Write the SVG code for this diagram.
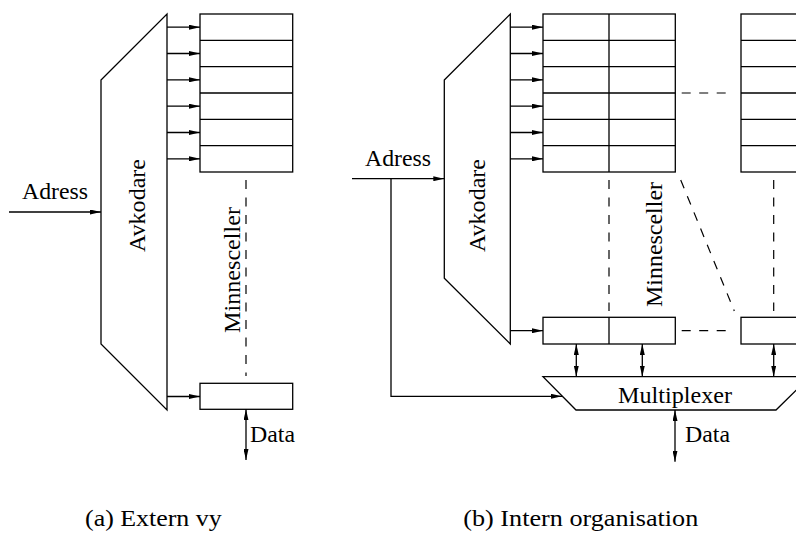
<svg xmlns="http://www.w3.org/2000/svg" width="796" height="534" viewBox="0 0 796 534">
<style>
.s{fill:none;stroke:#000;stroke-width:1.3}
.b{fill:#fff;stroke:#000;stroke-width:1.3}
.d{fill:none;stroke:#000;stroke-width:1.2;stroke-dasharray:9 8.5}
text{font-size:23px;fill:#000}
</style>
<defs>
<marker id="ah" viewBox="0 0 11 5" refX="11" refY="2.5" markerWidth="11" markerHeight="5" markerUnits="userSpaceOnUse" orient="auto-start-reverse">
<path d="M0,0 L11,2.5 L0,5 z" fill="#000"/>
</marker>
</defs>
<rect width="796" height="534" fill="#fff"/>
<g font-family="Liberation Serif, Tinos, DejaVu Serif, Noto Serif, FreeSerif, Times New Roman, serif">

<g id="decoder-a">
<path class="s" d="M101,80 L167,14 L167,410 L101,344 Z"/>
<text transform="translate(145,205.5) rotate(-90)" text-anchor="middle" textLength="93" lengthAdjust="spacingAndGlyphs">Avkodare</text>
</g>
<g id="cells-a">
<rect class="b" x="200" y="14" width="92.7" height="158"/>
<path class="s" d="M200,40.3H292.7M200,66.7H292.7M200,93H292.7M200,119.3H292.7M200,145.7H292.7"/>
<text transform="translate(240,270) rotate(-90)" text-anchor="middle" textLength="126" lengthAdjust="spacingAndGlyphs">Minnesceller</text>
</g>
<g id="cell-a-bottom">
<rect class="b" x="200" y="383.3" width="92.7" height="26"/>
</g>
<text x="22" y="199" textLength="66" lengthAdjust="spacingAndGlyphs">Adress</text>
<text x="250" y="442" textLength="45" lengthAdjust="spacingAndGlyphs">Data</text>
<text x="85" y="526" textLength="136.7" lengthAdjust="spacingAndGlyphs">(a) Extern vy</text>

<g id="decoder-b">
<path class="s" d="M444.3,80 L510.3,14 L510.3,344 L444.3,278.3 Z"/>
<text transform="translate(485,205.5) rotate(-90)" text-anchor="middle" textLength="93" lengthAdjust="spacingAndGlyphs">Avkodare</text>
</g>
<g id="cells-b1">
<rect class="b" x="543" y="14" width="132.3" height="158"/>
<path class="s" d="M609,14V172M543,40.3H675.3M543,66.7H675.3M543,93H675.3M543,119.3H675.3M543,145.7H675.3"/>
</g>
<g id="cells-b2">
<rect class="b" x="741" y="14" width="80" height="158"/>
<path class="s" d="M741,40.3H796M741,66.7H796M741,93H796M741,119.3H796M741,145.7H796"/>
</g>
<text transform="translate(662,244.5) rotate(-90)" text-anchor="middle" textLength="125" lengthAdjust="spacingAndGlyphs">Minnesceller</text>
<g id="cells-b-bottom">
<rect class="b" x="543" y="317.3" width="132.3" height="26.7"/>
<path class="s" d="M609,317.3V344"/>
<rect class="b" x="741" y="317.3" width="80" height="26.7"/>
</g>
<g id="multiplexer">
<path class="b" d="M543,376.7 L810,376.7 L776,410 L576,410 Z"/>
<text x="675" y="403" text-anchor="middle" textLength="114" lengthAdjust="spacingAndGlyphs">Multiplexer</text>
</g>
<text x="365" y="166" textLength="66" lengthAdjust="spacingAndGlyphs">Adress</text>
<text x="685" y="442" textLength="45" lengthAdjust="spacingAndGlyphs">Data</text>
<text x="463.3" y="526" textLength="235" lengthAdjust="spacingAndGlyphs">(b) Intern organisation</text>
</g>

<g id="connectors">
<path class="s" marker-end="url(#ah)" d="M9,212H101"/>
<path class="s" marker-end="url(#ah)" d="M167,27.2H200"/>
<path class="s" marker-end="url(#ah)" d="M167,53.5H200"/>
<path class="s" marker-end="url(#ah)" d="M167,79.8H200"/>
<path class="s" marker-end="url(#ah)" d="M167,106.2H200"/>
<path class="s" marker-end="url(#ah)" d="M167,132.5H200"/>
<path class="s" marker-end="url(#ah)" d="M167,158.8H200"/>
<path class="s" marker-end="url(#ah)" d="M167,396.5H200"/>
<path class="d" d="M246,180V376"/>
<path class="s" marker-start="url(#ah)" marker-end="url(#ah)" d="M246,409.3V460"/>
<path class="s" marker-end="url(#ah)" d="M352,178.7H444.3"/>
<path class="s" marker-end="url(#ah)" d="M391,178.7V396.3H562"/>
<path class="s" marker-end="url(#ah)" d="M510.3,27.2H543"/>
<path class="s" marker-end="url(#ah)" d="M510.3,53.5H543"/>
<path class="s" marker-end="url(#ah)" d="M510.3,79.8H543"/>
<path class="s" marker-end="url(#ah)" d="M510.3,106.2H543"/>
<path class="s" marker-end="url(#ah)" d="M510.3,132.5H543"/>
<path class="s" marker-end="url(#ah)" d="M510.3,158.8H543"/>
<path class="s" marker-end="url(#ah)" d="M510.3,330.7H543"/>
<path class="d" d="M681.7,93H727"/>
<path class="d" d="M681.7,330.7H727"/>
<path class="d" d="M609,180V311"/>
<path class="d" d="M773.7,180V311"/>
<path class="d" d="M680.7,180L734.3,311"/>
<path class="s" marker-start="url(#ah)" marker-end="url(#ah)" d="M576.3,344V376.7"/>
<path class="s" marker-start="url(#ah)" marker-end="url(#ah)" d="M642.3,344V376.7"/>
<path class="s" marker-start="url(#ah)" marker-end="url(#ah)" d="M773.7,344V376.7"/>
<path class="s" marker-start="url(#ah)" marker-end="url(#ah)" d="M675,410V461.7"/>
</g>
</svg>
